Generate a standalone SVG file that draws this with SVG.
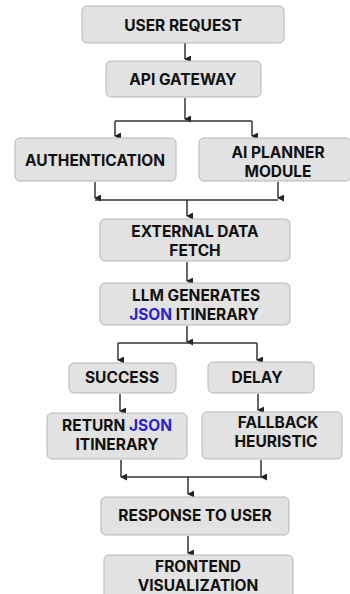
<svg xmlns="http://www.w3.org/2000/svg" width="350" height="594" viewBox="0 0 350 594">
<defs>
<marker id="ah" viewBox="0 0 8 8" refX="4" refY="7" markerWidth="7" markerHeight="7" markerUnits="userSpaceOnUse" orient="auto-start-reverse"><path d="M0,0 L8,0 L4,8 Z" fill="#222"/></marker>
<style>
.box{fill:#e2e2e2;stroke:#b5b5b5;stroke-width:1}
.t{font-family:Inter,"Liberation Sans",sans-serif;font-weight:700;font-size:15.5px;fill:#111;text-anchor:middle}
.b{fill:#2b1fcc}
.c{fill:none;stroke:#333;stroke-width:1.5}
.a{marker-end:url(#ah)}
</style>
</defs>
<rect width="350" height="594" fill="#fff"/>
<g id="connectors">
<path class="c a" d="M185,43 V59"/>
<path class="c a" d="M185,98 V119"/>
<path class="c" d="M115,121 H252"/>
<path class="c a" d="M115,121 V136"/>
<path class="c a" d="M252,121 V136"/>
<path class="c a" d="M95,182 V198"/>
<path class="c a" d="M278,182 V198"/>
<path class="c" d="M95,200 H278"/>
<path class="c a" d="M187,200 V216"/>
<path class="c a" d="M187,262 V281"/>
<path class="c a" d="M187,326 V342"/>
<path class="c" d="M118,343 H257"/>
<path class="c a" d="M118,343 V360"/>
<path class="c a" d="M257,343 V360"/>
<path class="c a" d="M120,394 V411"/>
<path class="c a" d="M258,394 V410"/>
<path class="c a" d="M121,460 V477"/>
<path class="c a" d="M261,460 V477"/>
<path class="c" d="M121,477 H261"/>
<path class="c a" d="M188,477 V494"/>
<path class="c a" d="M188,536 V553"/>
</g>
<g id="user-request"><rect class="box" x="82" y="6" width="202" height="37" rx="5"/><text class="t" x="183" y="31">USER REQUEST</text></g>
<g id="api-gateway"><rect class="box" x="106" y="61" width="155" height="36" rx="5"/><text class="t" x="183" y="85">API GATEWAY</text></g>
<g id="authentication"><rect class="box" x="15" y="138" width="161" height="43" rx="5"/><text class="t" x="95" y="166">AUTHENTICATION</text></g>
<g id="ai-planner"><rect class="box" x="199" y="138" width="152" height="43" rx="5"/><text class="t" x="278" y="158">AI PLANNER</text><text class="t" x="278" y="177">MODULE</text></g>
<g id="external-data"><rect class="box" x="100" y="219" width="190" height="42" rx="5"/><text class="t" x="195" y="237">EXTERNAL DATA</text><text class="t" x="195" y="256">FETCH</text></g>
<g id="llm"><rect class="box" x="100" y="283" width="190" height="42" rx="5"/><text class="t" x="196" y="301">LLM GENERATES</text><text class="t" x="194" y="320"><tspan class="b">JSON</tspan> ITINERARY</text></g>
<g id="success"><rect class="box" x="69" y="363" width="107" height="30" rx="5"/><text class="t" x="122" y="383">SUCCESS</text></g>
<g id="delay"><rect class="box" x="208" y="362" width="106" height="31" rx="5"/><text class="t" x="257" y="383">DELAY</text></g>
<g id="return-json"><rect class="box" x="47" y="413" width="140" height="46" rx="5"/><text class="t" x="117" y="431">RETURN <tspan class="b">JSON</tspan></text><text class="t" x="117" y="450">ITINERARY</text></g>
<g id="fallback"><rect class="box" x="202" y="412" width="140" height="47" rx="5"/><text class="t" x="278" y="428">FALLBACK</text><text class="t" x="276" y="447">HEURISTIC</text></g>
<g id="response"><rect class="box" x="101" y="497" width="188" height="38" rx="5"/><text class="t" x="195" y="521">RESPONSE TO USER</text></g>
<g id="frontend"><rect class="box" x="104" y="555" width="189" height="45" rx="5"/><text class="t" x="198" y="572">FRONTEND</text><text class="t" x="198" y="591">VISUALIZATION</text></g>
</svg>
